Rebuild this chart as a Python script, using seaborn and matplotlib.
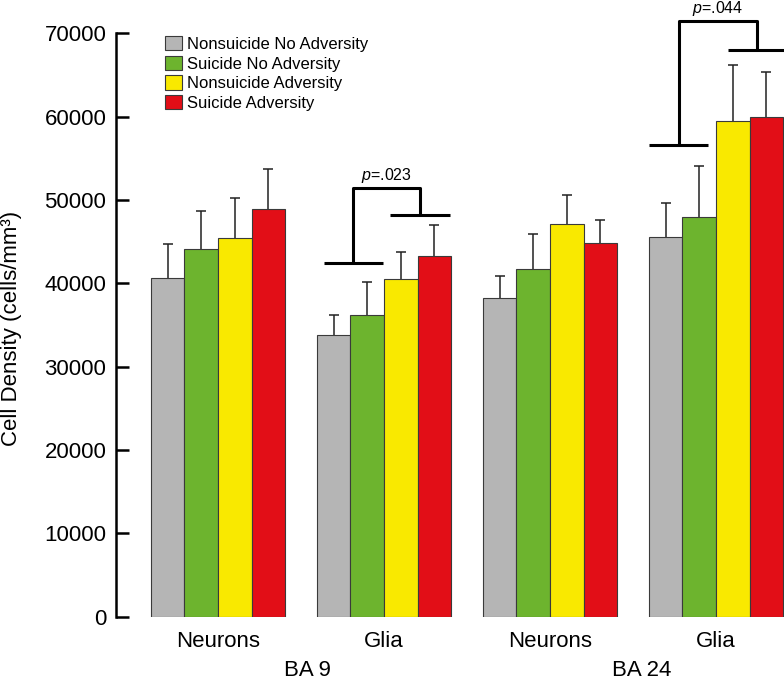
import numpy as np
import pandas as pd
import matplotlib
matplotlib.use("Agg")
import matplotlib.pyplot as plt
import seaborn as sns
from matplotlib.patches import Patch

# ---- data ----
regions = ["BA 9", "BA 9", "BA 24", "BA 24"]
cell_types = ["Neurons", "Glia", "Neurons", "Glia"]
groups = ["Nonsuicide No Adversity", "Suicide No Adversity",
          "Nonsuicide Adversity", "Suicide Adversity"]
means = {
    "Nonsuicide No Adversity": [40600, 33800, 38300, 45600],
    "Suicide No Adversity":    [44100, 36200, 41700, 48000],
    "Nonsuicide Adversity":    [45500, 40500, 47100, 59500],
    "Suicide Adversity":       [48900, 43300, 44800, 60000],
}
errors = {
    "Nonsuicide No Adversity": [4100, 2450, 2600, 4000],
    "Suicide No Adversity":    [4600, 3950, 4250, 6100],
    "Nonsuicide Adversity":    [4700, 3250, 3550, 6700],
    "Suicide Adversity":       [4850, 3700, 2750, 5400],
}
colors = ["#b5b5b5", "#6db42e", "#f9e900", "#e20e17"]
yticks = [0, 10000, 20000, 30000, 40000, 50000, 60000, 70000]
p_labels = ["=.023", "=.044"]
# bracket heights: left bar, top, right bar
brackets_y = [(42400, 51400, 48170), (56600, 71480, 67970)]

# ---- build table ----
xcat = [f"{c}_{i}" for i, c in enumerate(cell_types)]
rows = []
for g in groups:
    for i in range(4):
        rows.append({"x": xcat[i], "group": g, "value": means[g][i]})
df = pd.DataFrame(rows)

plt.rcParams["font.family"] = ["Liberation Sans", "DejaVu Sans"]
plt.rcParams["mathtext.fontset"] = "custom"
plt.rcParams["mathtext.it"] = "Liberation Sans:italic"
plt.rcParams["mathtext.rm"] = "Liberation Sans"

fig = plt.figure(figsize=(7.84, 6.86), dpi=100)
ax = fig.add_axes([116 / 784, (686 - 616.7) / 686, 1 - 116 / 784, 616.7 / 686])

sns.barplot(data=df, x="x", y="value", hue="group", hue_order=groups,
            palette=colors, order=xcat, width=0.81, errorbar=None,
            edgecolor="#3a3a3a", linewidth=0.8, saturation=1, ax=ax,
            legend=False, zorder=3)

# error bars (upper only)
for cont, g in zip(ax.containers, groups):
    xs = [b.get_x() + b.get_width() / 2 for b in cont]
    ys = [b.get_height() for b in cont]
    err = errors[g]
    eb = ax.errorbar(xs, ys, yerr=[np.zeros(len(err)), err], fmt="none",
                     ecolor="#222222", elinewidth=1.1, capsize=3.5, capthick=1.1,
                     zorder=2)
    caps = eb[1]
    if len(caps) > 0:
        caps[0].set_visible(False)

ax.set_ylim(0, 74000)
ax.set_xlim(-0.614, 3.41)
ax.set_yticks(yticks)
ax.set_yticklabels([str(t) for t in yticks], fontsize=16)
ax.set_xticks(range(4))
ax.set_xticklabels(cell_types, fontsize=16)
ax.tick_params(axis="x", length=0, pad=10)
ax.tick_params(axis="y", direction="in", length=9.5, width=1.8, pad=7)
for s in ["top", "right", "bottom"]:
    ax.spines[s].set_visible(False)
ax.spines["left"].set_linewidth(1.8)
ax.spines["left"].set_bounds(0, 70000)
ax.set_xlabel("")
ax.set_ylabel("")
fig.text(12 / 784, 1 - 328 / 686, "Cell Density (cells/mm³)", rotation=90,
         ha="center", va="center", fontsize=16)

# region labels
trans = ax.get_xaxis_transform()
ax.text(0.542, -(670.5 - 616.7) / 616.7, "BA 9", transform=trans,
        ha="center", va="center", fontsize=16)
ax.text(2.552, -(670.5 - 616.7) / 616.7, "BA 24", transform=trans,
        ha="center", va="center", fontsize=16)

# significance brackets
bgroups = [1, 3]
lv_off = [-0.185, -0.225]
rv_off = [0.217, 0.25]
half = 0.178
for k, gi in enumerate(bgroups):
    yl, yt, yr = brackets_y[k]
    xl = gi + lv_off[k]
    xr = gi + rv_off[k]
    kw = dict(color="black", lw=2.2, solid_capstyle="butt", clip_on=False, zorder=4)
    ax.plot([xl - half, xl + half], [yl, yl], **kw)
    ax.plot([xr - half, xr + half], [yr, yr], **kw)
    ax.plot([xl, xl, xr, xr], [yl, yt, yt, yr], **kw)
    ax.text((xl + xr) / 2, yt + 1550, r"$\it{p}$" + p_labels[k],
            ha="center", va="center", fontsize=11.5)

# legend
handles = [Patch(facecolor=c, edgecolor="#3a3a3a", linewidth=0.8) for c in colors]
fig.legend(handles, groups, loc="upper left",
           bbox_to_anchor=(165 / 784, 1 - 36 / 686), frameon=False,
           fontsize=12, handlelength=1.0, handleheight=0.95,
           handletextpad=0.3, labelspacing=0.22, borderpad=0, borderaxespad=0)

fig.savefig("out.png", dpi=100)
